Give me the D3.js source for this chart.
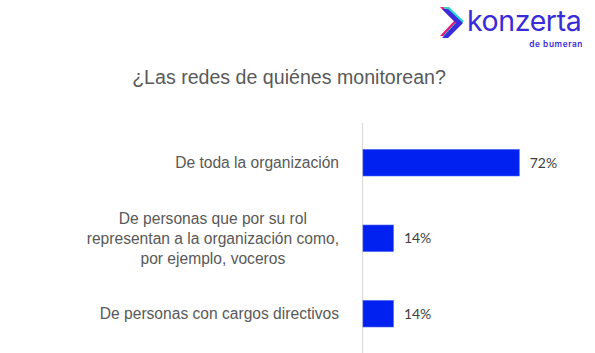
<!DOCTYPE html>
<html>
<head>
<meta charset="utf-8">
<script src="https://cdn.jsdelivr.net/npm/d3@7"></script>
<style>
  html, body { margin: 0; padding: 0; background: #fff; }
  svg { display: block; }
</style>
</head>
<body>
<svg id="chart" width="595" height="353"></svg>
<script>
const title = "¿Las redes de quiénes monitorean?";
const categories = [
  ["De toda la organización"],
  ["De personas que por su rol", "representan a la organización como,", "por ejemplo, voceros"],
  ["De personas con cargos directivos"]
];
const values = [72, 14, 14];
const valueLabels = ["72%", "14%", "14%"];

const svg = d3.select("#chart");

// Logo
const logo = svg.append("g").attr("class", "logo");
const chev = "441,8 447,8 462,22 447,37 441,37 455,22";
logo.append("polygon").attr("points", chev).attr("fill", "#e8177f").attr("transform", "translate(-1,-1)");
logo.append("polygon").attr("points", chev).attr("fill", "#2fd8c9").attr("transform", "translate(2,-1)");
logo.append("polygon").attr("points", chev).attr("fill", "#3b2bdc").attr("transform", "translate(1,1)");
logo.append("text").attr("x", 467).attr("y", 31)
  .attr("font-family", "Inter, 'Open Sans', sans-serif").attr("font-size", 28.5)
  .attr("font-weight", 400).attr("letter-spacing", -0.4)
  .attr("fill", "#3a2bd8").text("konzerta");
logo.append("text").attr("x", 583).attr("y", 46.5).attr("text-anchor", "end")
  .attr("font-family", "Inter, 'Open Sans', sans-serif").attr("font-size", 8.3)
  .attr("font-weight", 600).attr("letter-spacing", 0.6)
  .attr("fill", "#3a2bd8").text("de bumeran");

// Title
svg.append("text").attr("x", 289).attr("y", 83.5)
  .attr("text-anchor", "middle")
  .attr("font-family", "'Liberation Sans', Arial, sans-serif")
  .attr("font-size", 19.6).attr("fill", "#595959").text(title);

// Scales
const x = d3.scaleLinear().domain([0, 100]).range([363, 580]);
const y = d3.scaleBand().domain(d3.range(categories.length))
  .range([125, 351.5]).paddingInner(0.65).paddingOuter(0.325);

// Axis line
svg.append("line").attr("x1", x(0) - 0.5).attr("x2", x(0) - 0.5)
  .attr("y1", 123).attr("y2", 353)
  .attr("stroke", "#d9d9d9").attr("stroke-width", 1);

// Bars
svg.selectAll("rect.bar").data(values).join("rect").attr("class", "bar")
  .attr("x", x(0)).attr("y", (d, i) => y(i))
  .attr("width", d => x(d) - x(0)).attr("height", y.bandwidth())
  .attr("fill", "#0021ef").attr("stroke", "#3a55f5").attr("stroke-width", 0.6);

// Value labels
svg.selectAll("text.val").data(values).join("text").attr("class", "val")
  .attr("x", d => x(d) + 10.5).attr("y", (d, i) => y(i) + y.bandwidth() / 2)
  .attr("dy", "0.36em")
  .attr("font-family", "Lato, 'Open Sans', sans-serif").attr("font-size", 14)
  .attr("fill", "#404040").text((d, i) => valueLabels[i]);

// Category labels: block right-aligned, lines centered within block
const labelRight = 339;
const lineH = 20;
const catG = svg.selectAll("g.cat").data(categories).join("g").attr("class", "cat");
catG.each(function(lines, i) {
  const g = d3.select(this);
  const cy = y(i) + y.bandwidth() / 2;
  const texts = lines.map((ln, k) => g.append("text")
    .attr("font-family", "'Liberation Sans', Arial, sans-serif")
    .attr("font-size", 15.6).attr("fill", "#595959")
    .attr("text-anchor", "middle")
    .attr("y", cy + (k - (lines.length - 1) / 2) * lineH)
    .attr("dy", "0.35em").text(ln));
  const maxW = d3.max(texts, t => t.node().getComputedTextLength());
  texts.forEach(t => t.attr("x", labelRight - maxW / 2));
});
</script>
</body>
</html>
